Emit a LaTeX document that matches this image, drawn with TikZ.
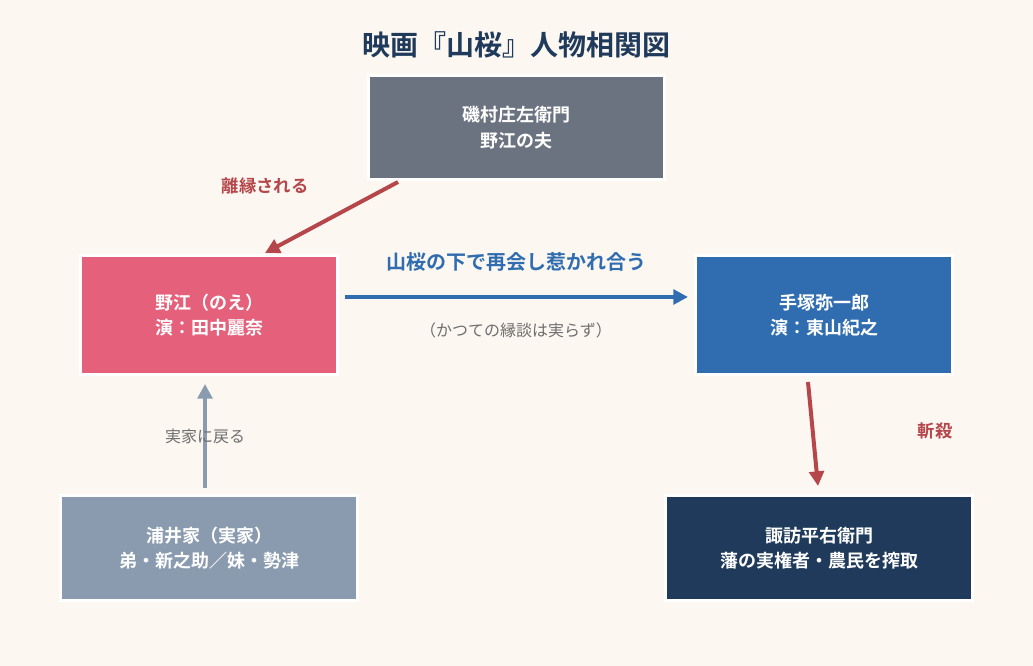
\documentclass[tikz,border=0pt]{standalone}
\usepackage{fontspec}
\setmainfont{Noto Sans CJK JP}[BoldFont={* Bold}]
\usetikzlibrary{arrows.meta}
\definecolor{bgcream}{HTML}{FCF7F1}
\definecolor{navy}{HTML}{1F3A5A}
\definecolor{slate}{HTML}{6B7280}
\definecolor{rose}{HTML}{E5607A}
\definecolor{steel}{HTML}{2F6DB0}
\definecolor{mist}{HTML}{8A9BB0}
\definecolor{brick}{HTML}{B5474B}
\definecolor{ash}{HTML}{6E6E6E}
\tikzset{every picture/.style={line width=0.75pt}}
\tikzset{
  person/.style={draw=white, line width=2pt, text=white, font=\bfseries\fontsize{13.5}{19}\selectfont, align=center, inner sep=0pt},
  link/.style={line width=3pt, -{Triangle[length=11pt,width=11pt]}},
}
\begin{document}
\begin{tikzpicture}[x=0.75pt,y=0.75pt,yscale=-1,xscale=1]
	\fill[bgcream] (0,0) rectangle (1033,666);
	\useasboundingbox (0,0) rectangle (1033,666);

	% Title
	\node[text=navy, font=\bfseries\fontsize{21}{25}\selectfont] (title) at (516,45) {映画『山桜』人物相関図};

	% Boxes
	\node[person, fill=slate, minimum width=296pt*0.75, minimum height=104pt*0.75] (isomura) at (516.5,127.5) {磯村庄左衛門\\野江の夫};
	\node[person, fill=rose, minimum width=257pt*0.75, minimum height=119pt*0.75] (noe) at (209,315) {野江（のえ）\\演：田中麗奈};
	\node[person, fill=steel, minimum width=257pt*0.75, minimum height=119pt*0.75] (tezuka) at (824,315) {手塚弥一郎\\演：東山紀之};
	\node[person, fill=mist, minimum width=297pt*0.75, minimum height=105pt*0.75] (urai) at (209,548) {浦井家（実家）\\弟・新之助／妹・勢津};
	\node[person, fill=navy, minimum width=307pt*0.75, minimum height=105pt*0.75] (suwa) at (819,548) {諏訪平右衛門\\藩の実権者・農民を搾取};

	% Connectors
	\coordinate (a1) at (398,182);
	\coordinate (a2) at (265,253);
	\draw[link, brick] (a1) -- (a2);
	\coordinate (b1) at (345,297);
	\coordinate (b2) at (688,297);
	\draw[link, steel] (b1) -- (b2);
	\coordinate (c1) at (205,488);
	\coordinate (c2) at (205,384);
	\draw[link, mist] (c1) -- (c2);
	\coordinate (d1) at (808,382);
	\coordinate (d2) at (818,486);
	\draw[link, brick] (d1) -- (d2);

	% Labels
	\node[text=brick, font=\bfseries\fontsize{13}{15}\selectfont] (divorce) at (265,186) {離縁される};
	\node[text=steel, font=\bfseries\fontsize{15}{18}\selectfont] (reunion) at (516,262) {山桜の下で再会し惹かれ合う};
	\node[text=ash, font=\fontsize{12}{14}\selectfont] (past) at (516,330) {（かつての縁談は実らず）};
	\node[text=ash, font=\fontsize{12}{14}\selectfont] (home) at (205,436) {実家に戻る};
	\node[text=brick, font=\bfseries\fontsize{13}{15}\selectfont] (slay) at (935,431) {斬殺};
\end{tikzpicture}
\end{document}
